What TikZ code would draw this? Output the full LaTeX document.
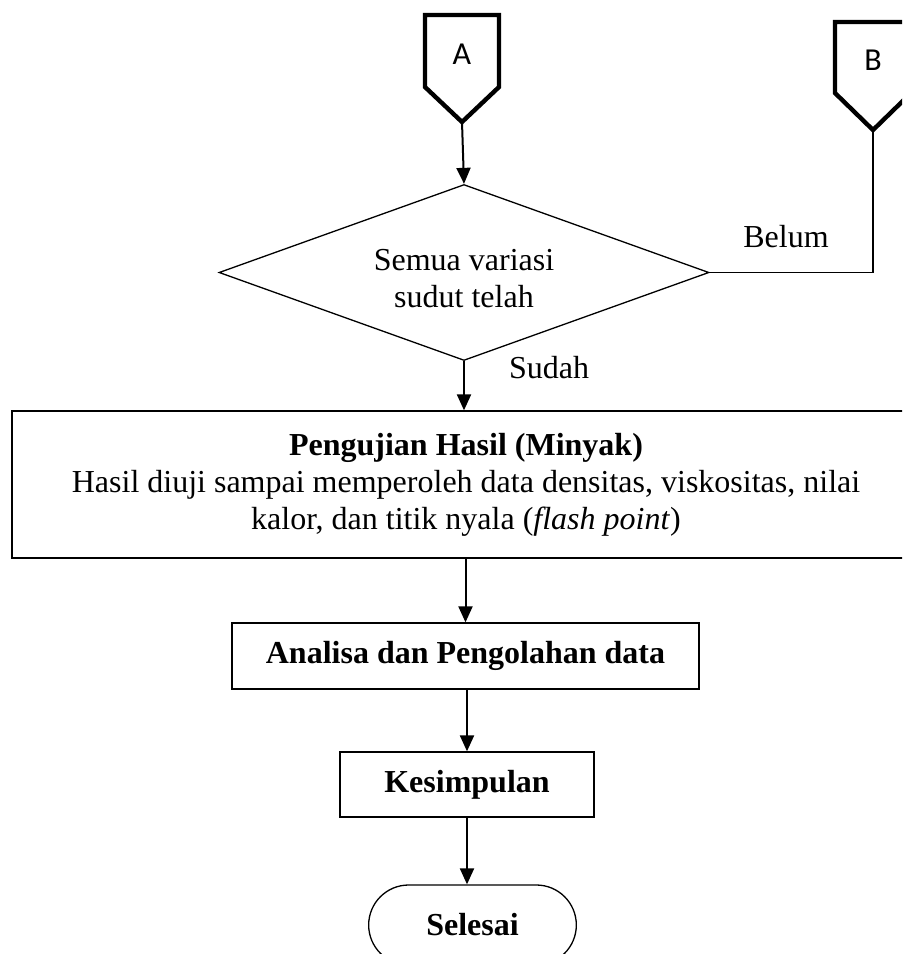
\documentclass[tikz,border=0pt]{standalone}
\usepackage{fontspec}
\setmainfont{Liberation Serif}
\newfontfamily\calib{Carlito}
\usetikzlibrary{shapes.geometric,shapes.misc,arrows.meta}

\begin{document}
\begin{tikzpicture}[x=0.5pt, y=-0.5pt,
    every node/.style={font=\fontsize{16}{18.5}\selectfont},
    kotak/.style={rectangle, draw, line width=0.65pt, inner sep=0pt, align=center},
    keputusan/.style={diamond, draw, line width=0.65pt, aspect=2.8, inner sep=0pt,
        minimum width=245pt, minimum height=88pt, align=center},
    terminal/.style={rounded rectangle, draw, line width=0.65pt,
        minimum width=110.5pt, minimum height=40pt},
    konektor/.style={line width=2.2pt, line join=miter},
    huruf/.style={font=\calib\fontsize{16}{18}\selectfont},
    panah/.style={line width=1pt, -{Triangle[length=8pt,width=7pt]}}]
    \clip (0,0) rectangle (902,954);

    % Konektor A dan B
    \draw[konektor] (425,15) -- (499,15) -- (499,87) -- (462,122) -- (425,87) -- cycle;
    \node[huruf] (A) at (462,54) {A};
    \coordinate (Aujung) at (462,122);
    \draw[konektor] (835,22) -- (911,22) -- (911,93) -- (873,130) -- (835,93) -- cycle;
    \node[huruf] (B) at (873,60) {B};
    \coordinate (Bujung) at (873,130);

    % Posisi blok
    \node[keputusan] (cek) at (464,272.5) {\rule{0pt}{17pt}Semua variasi\\sudut telah};
    \node[kotak, minimum width=454pt, minimum height=73.5pt] (uji) at (466,484.5)
        {\textbf{Pengujian Hasil (Minyak)}\\Hasil diuji sampai memperoleh data densitas, viskositas, nilai\\kalor, dan titik nyala (\textit{flash point})};
    \node[kotak, minimum width=233.5pt, minimum height=33pt] (olah) at (465.5,656) {\textbf{Analisa dan Pengolahan data}};
    \node[kotak, minimum width=127pt, minimum height=32.5pt] (kes) at (467,784.5) {\textbf{Kesimpulan}};
    \node[terminal] (selesai) at (472.5,925) {\textbf{Selesai}};

    % Label cabang
    \node (belum) at (786,237) {Belum};
    \node (sudah) at (549,368) {Sudah};

    % Garis alir
    \draw[panah] (Aujung) -- (cek.north);
    \draw[line width=0.6pt] (Bujung) |- (cek.east);
    \draw[panah] (cek.south) -- (cek.south |- uji.north);
    \draw[panah] (uji.south -| olah.north) -- (olah.north);
    \draw[panah] (olah.south) -- (olah.south -| kes.north) -- (kes.north);
    \draw[panah] (kes.south) -- (kes.south |- selesai.north);
\end{tikzpicture}
\end{document}
